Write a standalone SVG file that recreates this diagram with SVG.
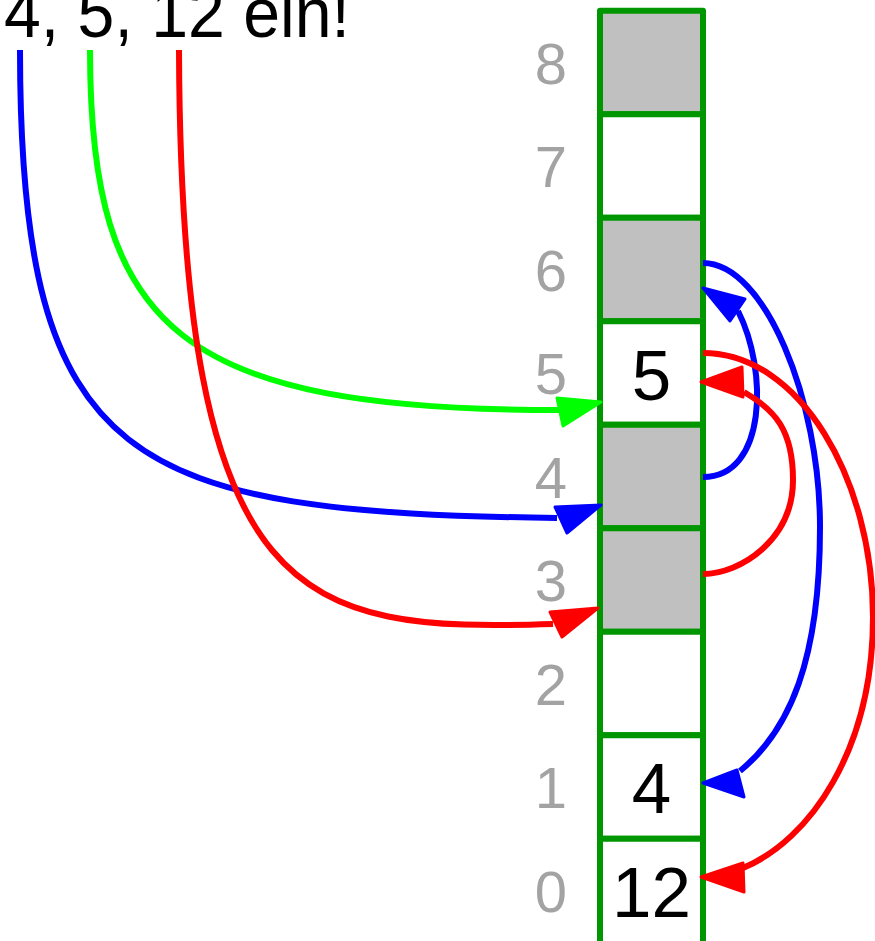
<svg xmlns="http://www.w3.org/2000/svg" width="875" height="941" viewBox="0 0 875 941">
<style>
.cell{stroke:#009600;stroke-width:6;stroke-linejoin:round}
.full{fill:#c0c0c0}
.empty{fill:#ffffff}
.idx{font-family:"Liberation Sans","DejaVu Sans",sans-serif;font-size:58px;fill:#a3a3a3;text-anchor:middle}
.val{font-family:"Liberation Sans","DejaVu Sans",sans-serif;font-size:71px;fill:#000;text-anchor:middle}
.title{font-family:"Liberation Sans","DejaVu Sans",sans-serif;font-size:70px;fill:#000}
.c{fill:none;stroke-width:6}
.b{stroke:#0000ff}
.g{stroke:#00ff00}
.r{stroke:#ff0000}
.hb{fill:#0000ff;stroke:#0000ff;stroke-width:3;stroke-linejoin:round}
.hg{fill:#00ff00;stroke:#00ff00;stroke-width:3;stroke-linejoin:round}
.hr{fill:#ff0000;stroke:#ff0000;stroke-width:3;stroke-linejoin:round}
</style>
<rect width="875" height="941" fill="#fff"/>
<text class="title" x="4" y="37" textLength="346" lengthAdjust="spacingAndGlyphs">4, 5, 12 ein!</text>
<g id="cell8"><rect class="cell full" x="600" y="10.7" width="103" height="103.5"/><text class="idx" x="551" y="83.5">8</text></g>
<g id="cell7"><rect class="cell empty" x="600" y="114.2" width="103" height="103.5"/><text class="idx" x="551" y="187">7</text></g>
<g id="cell6"><rect class="cell full" x="600" y="217.7" width="103" height="103.5"/><text class="idx" x="551" y="290.5">6</text></g>
<g id="cell5"><rect class="cell empty" x="600" y="321.2" width="103" height="103.5"/><text class="idx" x="551" y="394">5</text><text class="val" x="651.5" y="400">5</text></g>
<g id="cell4"><rect class="cell full" x="600" y="424.7" width="103" height="103.5"/><text class="idx" x="551" y="497.5">4</text></g>
<g id="cell3"><rect class="cell full" x="600" y="528.2" width="103" height="103.5"/><text class="idx" x="551" y="601">3</text></g>
<g id="cell2"><rect class="cell empty" x="600" y="631.7" width="103" height="103.5"/><text class="idx" x="551" y="704.5">2</text></g>
<g id="cell1"><rect class="cell empty" x="600" y="735.2" width="103" height="103.5"/><text class="idx" x="551" y="808">1</text><text class="val" x="651.5" y="813">4</text></g>
<g id="cell0"><rect class="cell empty" x="600" y="838.7" width="103" height="110"/><text class="idx" x="551" y="911.5">0</text><text class="val" x="651.5" y="917">12</text></g>
<g id="connectors">
<path class="c b" d="M20,50 C20,470 130,512 557,518"/>
<polygon class="hb" points="601,505 555,507 567,533"/>
<path class="c g" d="M90,50 C90,330 180,410 559,410"/>
<polygon class="hg" points="601,402 557,398 563,426"/>
<path class="c r" d="M179,50 C181,610 300,632 553,624"/>
<polygon class="hr" points="598,608 550,612 562,637"/>
<path class="c b" d="M703,477 C767,477 768,370 738,311"/>
<polygon class="hb" points="703,288 745,299 730,321"/>
<path class="c b" d="M703,263 C765,263 820,400 820,527 C820,660 790,730 740,771"/>
<polygon class="hb" points="703,783 737,770 744,797"/>
<path class="c r" d="M703,574 C740,574 793,540 793,480 C793,430 775,410 744,392"/>
<polygon class="hr" points="701,382 742,367 743,397"/>
<path class="c r" d="M703,353 C800,353 873,480 873,617 C873,750 810,840 743,868"/>
<polygon class="hr" points="701,877 743,863 744,892"/>
</g>
</svg>
